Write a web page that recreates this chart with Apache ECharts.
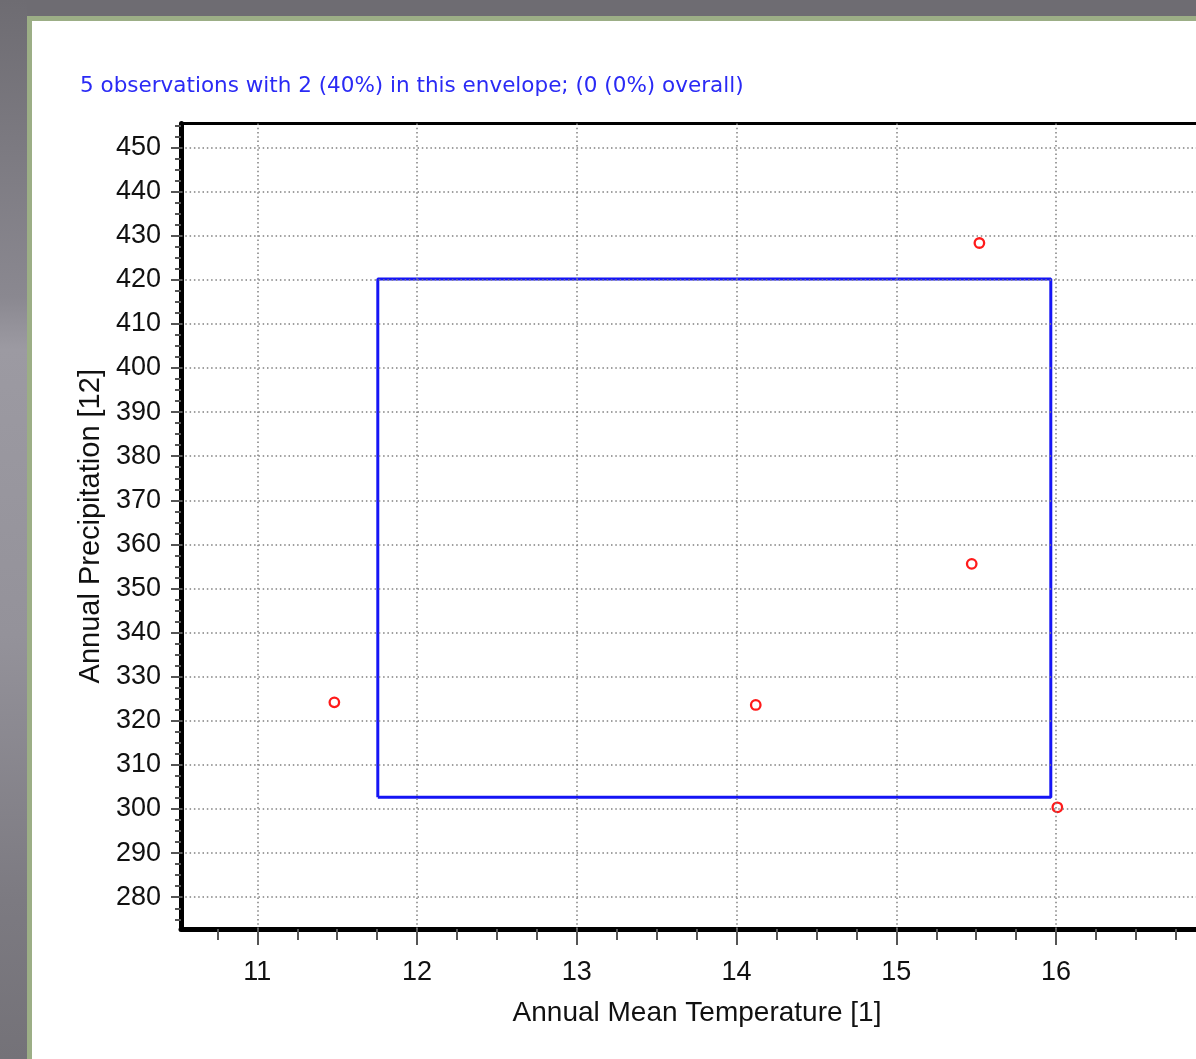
<!DOCTYPE html>
<html><head><meta charset="utf-8">
<script src="https://cdn.jsdelivr.net/npm/echarts@6/dist/echarts.min.js"></script>
<style>html,body{margin:0;padding:0;background:#fff;overflow:hidden}#c{width:1196px;height:1059px;}</style>
</head><body><div id="c"></div>
<script>
// ---- data ----
const titleText = '5 observations with 2 (40%) in this envelope; (0 (0%) overall)';
const xName = 'Annual Mean Temperature [1]';
const yName = 'Annual Precipitation [12]';
const xTicks = [11, 12, 13, 14, 15, 16];
const yTicks = [280, 290, 300, 310, 320, 330, 340, 350, 360, 370, 380, 390, 400, 410, 420, 430, 440, 450];
const xRange = [10.522, 16.876];
const yRange = [272.8, 455.44];
const obsX = [11.482, 14.12, 15.472, 15.52, 16.008];
const obsY = [324.2, 323.6, 355.6, 428.35, 300.4];
const envX = [11.754, 15.967];
const envY = [302.7, 420.2];

// minor tick positions (quarters of x unit, 2.5 of y unit)
const xMinor = [];
for (let b = xTicks[0] - 1; b <= xTicks[xTicks.length - 1]; b++) {
  [0.25, 0.5, 0.75].forEach(f => { const v = b + f; if (v > xRange[0] && v < xRange[1]) xMinor.push(v); });
}
const yMinor = [];
for (let b = yTicks[0] - 10; b <= yTicks[yTicks.length - 1]; b += 10) {
  [2.5, 5, 7.5].forEach(f => { const v = b + f; if (v > yRange[0] && v < yRange[1]) yMinor.push(v); });
}

const obsData = obsX.map((x, i) => [x, obsY[i]]);
const envData = [[envX[0], envY[0]], [envX[1], envY[0]], [envX[1], envY[1]], [envX[0], envY[1]], [envX[0], envY[0]]];

const FONT = '"Liberation Sans", Arial, sans-serif';
const gridDot = { color: '#808080', width: 1.5, type: [1.5, 2.8] };

const chart = echarts.init(document.getElementById('c'), null, { renderer: 'canvas' });
chart.setOption({
  animation: false,
  backgroundColor: '#ffffff',
  title: {
    text: titleText, left: 80, top: 75, padding: 0,
    textStyle: { color: '#2a2af5', fontSize: 21.5, fontWeight: 'normal', fontFamily: '"DejaVu Sans", Verdana, sans-serif' }
  },
  graphic: [
    { type: 'rect', z: -10, shape: { x: 0, y: 0, width: 1196, height: 21 }, style: { fill: '#9cae86' } },
    { type: 'rect', z: -9, shape: { x: 0, y: 0, width: 1196, height: 16 }, style: { fill: '#6e6c72' } },
    { type: 'rect', z: -10, shape: { x: 0, y: 0, width: 32, height: 1059 }, style: { fill: '#9cae86' } },
    { type: 'rect', z: -9, shape: { x: 0, y: 0, width: 27, height: 1059 },
      style: { fill: new echarts.graphic.LinearGradient(0, 0, 0, 1, [
        { offset: 0, color: '#6e6c72' }, { offset: 0.28, color: '#8a8890' },
        { offset: 0.33, color: '#9c9aa2' }, { offset: 0.6, color: '#94929a' },
        { offset: 0.85, color: '#7c7a81' }, { offset: 1, color: '#747278' }]) } },
    { type: 'text', x: 697, y: 1013, z: 5,
      style: { text: xName, font: '28px ' + FONT, fill: '#111', align: 'center', verticalAlign: 'middle' } }
  ],
  grid: { left: 181, top: 123.5, right: 0, bottom: 130, containLabel: false },
  xAxis: [
    { type: 'value', position: 'bottom', min: xRange[0], max: xRange[1],
      axisLine: { show: true, onZero: false, lineStyle: { color: '#000', width: 5 } },
      axisTick: { show: true, customValues: xTicks, length: 16, lineStyle: { color: '#555', width: 2 } },
      axisLabel: { show: true, customValues: xTicks, margin: 30, fontSize: 27, color: '#111', fontFamily: FONT },
      splitLine: { show: false } },
    { type: 'value', position: 'bottom', min: xRange[0], max: xRange[1],
      axisLine: { show: false },
      axisTick: { show: true, customValues: xMinor, length: 11, lineStyle: { color: '#555', width: 2 } },
      axisLabel: { show: false }, splitLine: { show: false } },
    { type: 'value', position: 'top', min: xRange[0], max: xRange[1],
      axisLine: { show: true, onZero: false, lineStyle: { color: '#000', width: 3 } },
      axisTick: { show: false }, axisLabel: { show: false }, splitLine: { show: false } }
  ],
  yAxis: [
    { type: 'value', position: 'left', min: yRange[0], max: yRange[1],
      axisLine: { show: true, onZero: false, lineStyle: { color: '#000', width: 5 } },
      axisTick: { show: true, customValues: yTicks, length: 10, lineStyle: { color: '#555', width: 2 } },
      axisLabel: { show: true, customValues: yTicks, margin: 20, fontSize: 27, color: '#111', fontFamily: FONT },
      splitLine: { show: false },
      name: yName, nameLocation: 'middle', nameGap: 76,
      nameTextStyle: { fontSize: 29, color: '#111', fontFamily: FONT } },
    { type: 'value', position: 'left', min: yRange[0], max: yRange[1],
      axisLine: { show: false },
      axisTick: { show: true, customValues: yMinor, length: 6, lineStyle: { color: '#555', width: 2 } },
      axisLabel: { show: false }, splitLine: { show: false } }
  ],
  series: [
    { type: 'line', name: 'grid', xAxisIndex: 0, yAxisIndex: 0, z: 1, silent: true,
      data: envData, symbol: 'none', lineStyle: { opacity: 0 },
      markLine: { silent: true, symbol: 'none', label: { show: false }, animation: false,
        lineStyle: gridDot,
        data: xTicks.map(v => ({ xAxis: v })).concat(yTicks.map(v => ({ yAxis: v }))) } },
    { type: 'line', name: 'envelope', xAxisIndex: 0, yAxisIndex: 0, z: 3, silent: true,
      data: envData, symbol: 'none', lineStyle: { color: '#1515f5', width: 3 } },
    { type: 'scatter', name: 'observations', xAxisIndex: 0, yAxisIndex: 0, z: 4,
      data: obsData, symbol: 'circle', symbolSize: 9.5,
      itemStyle: { color: '#ffffff', borderColor: '#ff1a1a', borderWidth: 2.3, opacity: 1 } }
  ]
});
</script></body></html>
